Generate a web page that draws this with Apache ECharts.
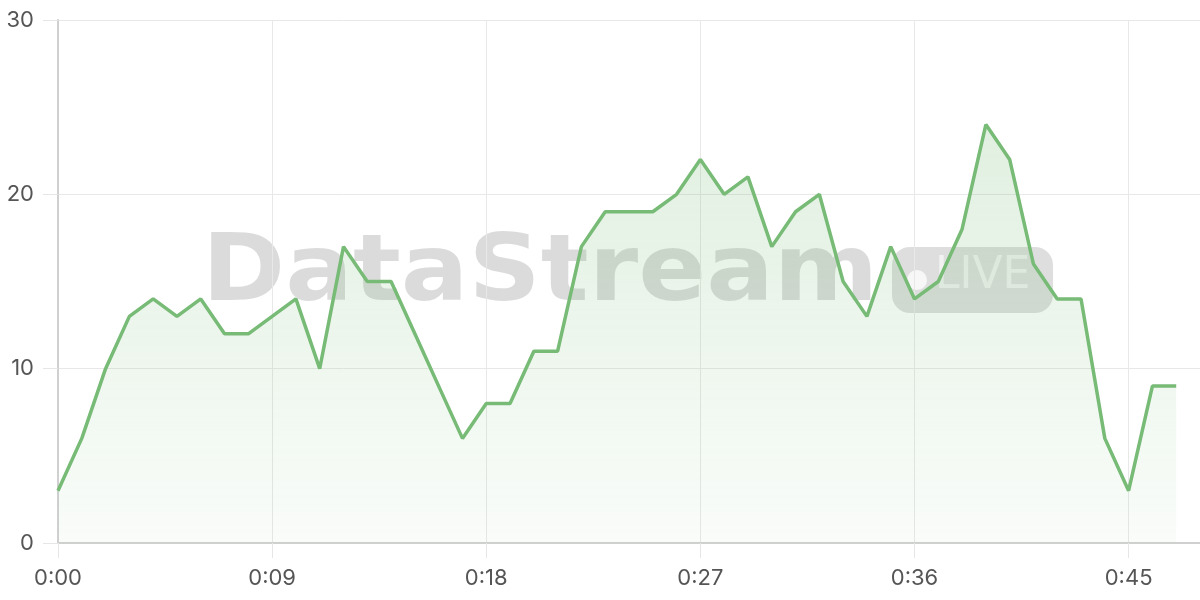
<!DOCTYPE html>
<html>
<head>
<meta charset="utf-8">
<script src="https://cdn.jsdelivr.net/npm/echarts@6/dist/echarts.min.js"></script>
<style>html,body{margin:0;padding:0;background:#fff}#c{width:1200px;height:600px}</style>
</head>
<body>
<div id="c"></div>
<script>
const seconds = [0,1,2,3,4,5,6,7,8,9,10,11,12,13,14,15,16,17,18,19,20,21,22,23,24,25,26,27,28,29,30,31,32,33,34,35,36,37,38,39,40,41,42,43,44,45,46,47];
const values = [3,6,10,13,14,13,14,12,12,13,14,10,17,15,15,12,9,6,8,8,11,11,17,19,19,19,20,22,20,21,17,19,20,15,13,17,14,15,18,24,22,16,14,14,6,3,9,9];
const yTicks = [0,10,20,30];
const watermarkText = 'DataStream';
const badgeText = 'LIVE';

const chart = echarts.init(document.getElementById('c'));
const fmt = v => { const m = Math.floor(v/60), s = v % 60; return m + ':' + (s < 10 ? '0' + s : s); };
const labelStyle = { color: '#555', fontSize: 22, fontFamily: 'Inter' };
chart.setOption({
  animation: false,
  grid: { left: 58, right: 0, top: 20, bottom: 57 },
  graphic: [
    { type: 'text', z: 0, silent: true, x: 202, y: 276, scaleX: 1.09,
      style: { text: watermarkText, x: 0, y: 0, align: 'left', verticalAlign: 'middle',
               font: 'bold 92px "DejaVu Sans"', fill: 'rgba(0,0,0,0.14)' } },
    { type: 'rect', z: 0, silent: true, shape: { x: 892, y: 247, width: 161, height: 66, r: 18 },
      style: { fill: 'rgba(0,0,0,0.13)' } },
    { type: 'circle', z: 0, silent: true, shape: { cx: 917, cy: 280, r: 10 },
      style: { fill: 'rgba(255,255,255,0.75)' } },
    { type: 'text', z: 0, silent: true, left: 935, top: 255,
      style: { text: badgeText, font: '44px "DejaVu Sans"', fill: 'rgba(255,255,255,0.6)' } }
  ],
  xAxis: {
    type: 'value', min: 0, max: 48, interval: 9,
    axisLine: { show: true, lineStyle: { color: '#d0d0d0', width: 2 } },
    axisTick: { show: true, length: 15, lineStyle: { color: '#e6e6e6' } },
    splitLine: { show: true, lineStyle: { color: '#e8e8e8' } },
    axisLabel: Object.assign({ margin: 24, formatter: fmt, showMaxLabel: false }, labelStyle)
  },
  yAxis: {
    type: 'value', min: yTicks[0], max: yTicks[yTicks.length-1], interval: 10,
    axisLine: { show: true, lineStyle: { color: '#d0d0d0', width: 2 } },
    axisTick: { show: true, length: 15, lineStyle: { color: '#e6e6e6' } },
    splitLine: { show: true, lineStyle: { color: '#e8e8e8' } },
    axisLabel: Object.assign({ margin: 24 }, labelStyle)
  },
  series: [{
    type: 'line',
    data: seconds.map((s, i) => [s, values[i]]),
    showSymbol: false,
    symbol: 'none',
    lineStyle: { color: '#77bb77', width: 3.5 },
    itemStyle: { color: '#77bb77' },
    areaStyle: {
      color: new echarts.graphic.LinearGradient(0, 0, 0, 1, [
        { offset: 0, color: 'rgba(119,187,119,0.32)' },
        { offset: 1, color: 'rgba(119,187,119,0.06)' }
      ])
    }
  }]
});
</script>
</body>
</html>
